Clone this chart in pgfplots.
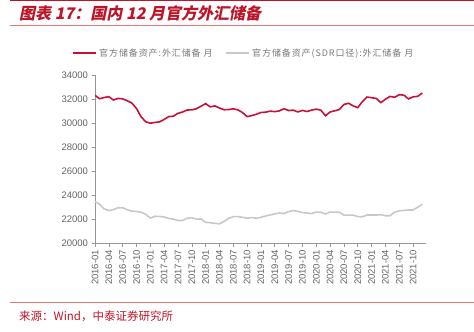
\documentclass[border=0pt]{standalone}
\usepackage{pgfplots}
\pgfplotsset{compat=1.18}
\usepackage{fontspec}
\setmainfont{Liberation Sans}
\newfontfamily\cjk{Noto Sans CJK SC}
\newfontfamily\cjkl{Noto Sans CJK SC}[LetterSpace=10]
\newfontfamily\cjkt{Noto Sans CJK SC}[FakeSlant=0.2]
\definecolor{titred}{RGB}{190,20,40}
\definecolor{linered}{RGB}{200,16,56}
\definecolor{lightred}{RGB}{225,120,120}
\definecolor{greyline}{RGB}{200,200,200}
\definecolor{txtgrey}{RGB}{100,100,100}
\definecolor{legrey}{RGB}{120,120,120}
\definecolor{axgrey}{RGB}{150,150,150}
\begin{document}
\begin{tikzpicture}
\useasboundingbox (0pt,0pt) rectangle (474pt,-332pt);
\draw[titred,line width=1.2pt] (10pt,-0.8pt) -- (474pt,-0.8pt);
\node[anchor=west,text=titred,inner sep=0] at (19pt,-13pt) {\fontsize{16}{18}\cjkt\bfseries 图表 17：国内 12 月官方外汇储备};
\draw[lightred,line width=0.7pt] (10pt,-25pt) -- (474pt,-25pt);
\draw[lightred,line width=0.7pt] (10pt,-302.7pt) -- (474pt,-302.7pt);
\node[anchor=west,text=titred,inner sep=0] at (19pt,-316pt) {\fontsize{11.5}{13}\cjk 来源：Wind，中泰证券研究所};
\begin{axis}[
  at={(95pt,-243pt)}, anchor=south west,
  scale only axis, width=331pt, height=168pt,
  xmin=0, xmax=71.8, ymin=20000, ymax=34000,
  axis lines*=left,
  axis line style={axgrey, line width=0.6pt},
  tick style={axgrey, line width=0.6pt},
  tick align=outside,
  major tick length=3.5pt,
  ytick={20000,22000,...,34000},
  scaled y ticks=false,
  xtick={0,3,...,69},
  xticklabels={2016-01,2016-04,2016-07,2016-10,2017-01,2017-04,2017-07,2017-10,2018-01,2018-04,2018-07,2018-10,2019-01,2019-04,2019-07,2019-10,2020-01,2020-04,2020-07,2020-10,2021-01,2021-04,2021-07,2021-10},
  x tick label style={rotate=90, anchor=east, font=\fontsize{9.5}{11}\selectfont, text=txtgrey},
  y tick label style={font=\fontsize{9.5}{11}\selectfont, text=txtgrey},
  /pgf/number format/1000 sep={},
  /pgf/number format/assume math mode=true,
  legend columns=2,
  legend style={at={(0.45,1.131)}, anchor=center, draw=none, fill=none,
    font=\fontsize{9}{10}\cjkl\color{legrey}, inner sep=0pt,
    /tikz/every even column/.append style={column sep=11pt}},
  legend image code/.code={\draw[#1] (0pt,0pt) -- (23pt,0pt);},
]
\addplot[linered, line width=1.6pt] coordinates {
(0,32309)(1,32023)(2,32126)(3,32197)(4,31917)(5,32052)(6,32011)(7,31851)(8,31664)(9,31206)(10,30516)(11,30105)
(12,29982)(13,30051)(14,30091)(15,30295)(16,30536)(17,30568)(18,30807)(19,30915)(20,31085)(21,31093)(22,31192)(23,31399)
(24,31615)(25,31345)(26,31428)(27,31249)(28,31106)(29,31121)(30,31179)(31,31097)(32,30870)(33,30531)(34,30617)(35,30727)
(36,30879)(37,30902)(38,30988)(39,30950)(40,31010)(41,31192)(42,31037)(43,31072)(44,30924)(45,31052)(46,30956)(47,31079)
(48,31155)(49,31067)(50,30606)(51,30915)(52,31017)(53,31123)(54,31544)(55,31646)(56,31426)(57,31280)(58,31785)(59,32165)
(60,32107)(61,32050)(62,31700)(63,31982)(64,32218)(65,32140)(66,32359)(67,32321)(68,32006)(69,32176)(70,32224)(71,32502)
};
\addlegendentry{官方储备资产:外汇储备 月}
\addplot[greyline, line width=1.6pt] coordinates {
(0,23453)(1,23228)(2,22841)(3,22703)(4,22780)(5,22940)(6,22942)(7,22775)(8,22650)(9,22630)(10,22560)(11,22396)
(12,22078)(13,22230)(14,22212)(15,22170)(16,22045)(17,21990)(18,21870)(19,21880)(20,22068)(21,22100)(22,21991)(23,22000)
(24,21720)(25,21690)(26,21640)(27,21600)(28,21800)(29,22050)(30,22200)(31,22200)(32,22134)(33,22070)(34,22120)(35,22060)
(36,22143)(37,22250)(38,22337)(39,22420)(40,22500)(41,22458)(42,22617)(43,22700)(44,22640)(45,22540)(46,22500)(47,22450)
(48,22580)(49,22560)(50,22420)(51,22580)(52,22570)(53,22560)(54,22330)(55,22320)(56,22324)(57,22200)(58,22182)(59,22334)
(60,22334)(61,22330)(62,22360)(63,22269)(64,22272)(65,22564)(66,22680)(67,22720)(68,22750)(69,22754)(70,22980)(71,23223)
};
\addlegendentry{官方储备资产(SDR口径):外汇储备 月}
\end{axis}
\end{tikzpicture}
\end{document}
